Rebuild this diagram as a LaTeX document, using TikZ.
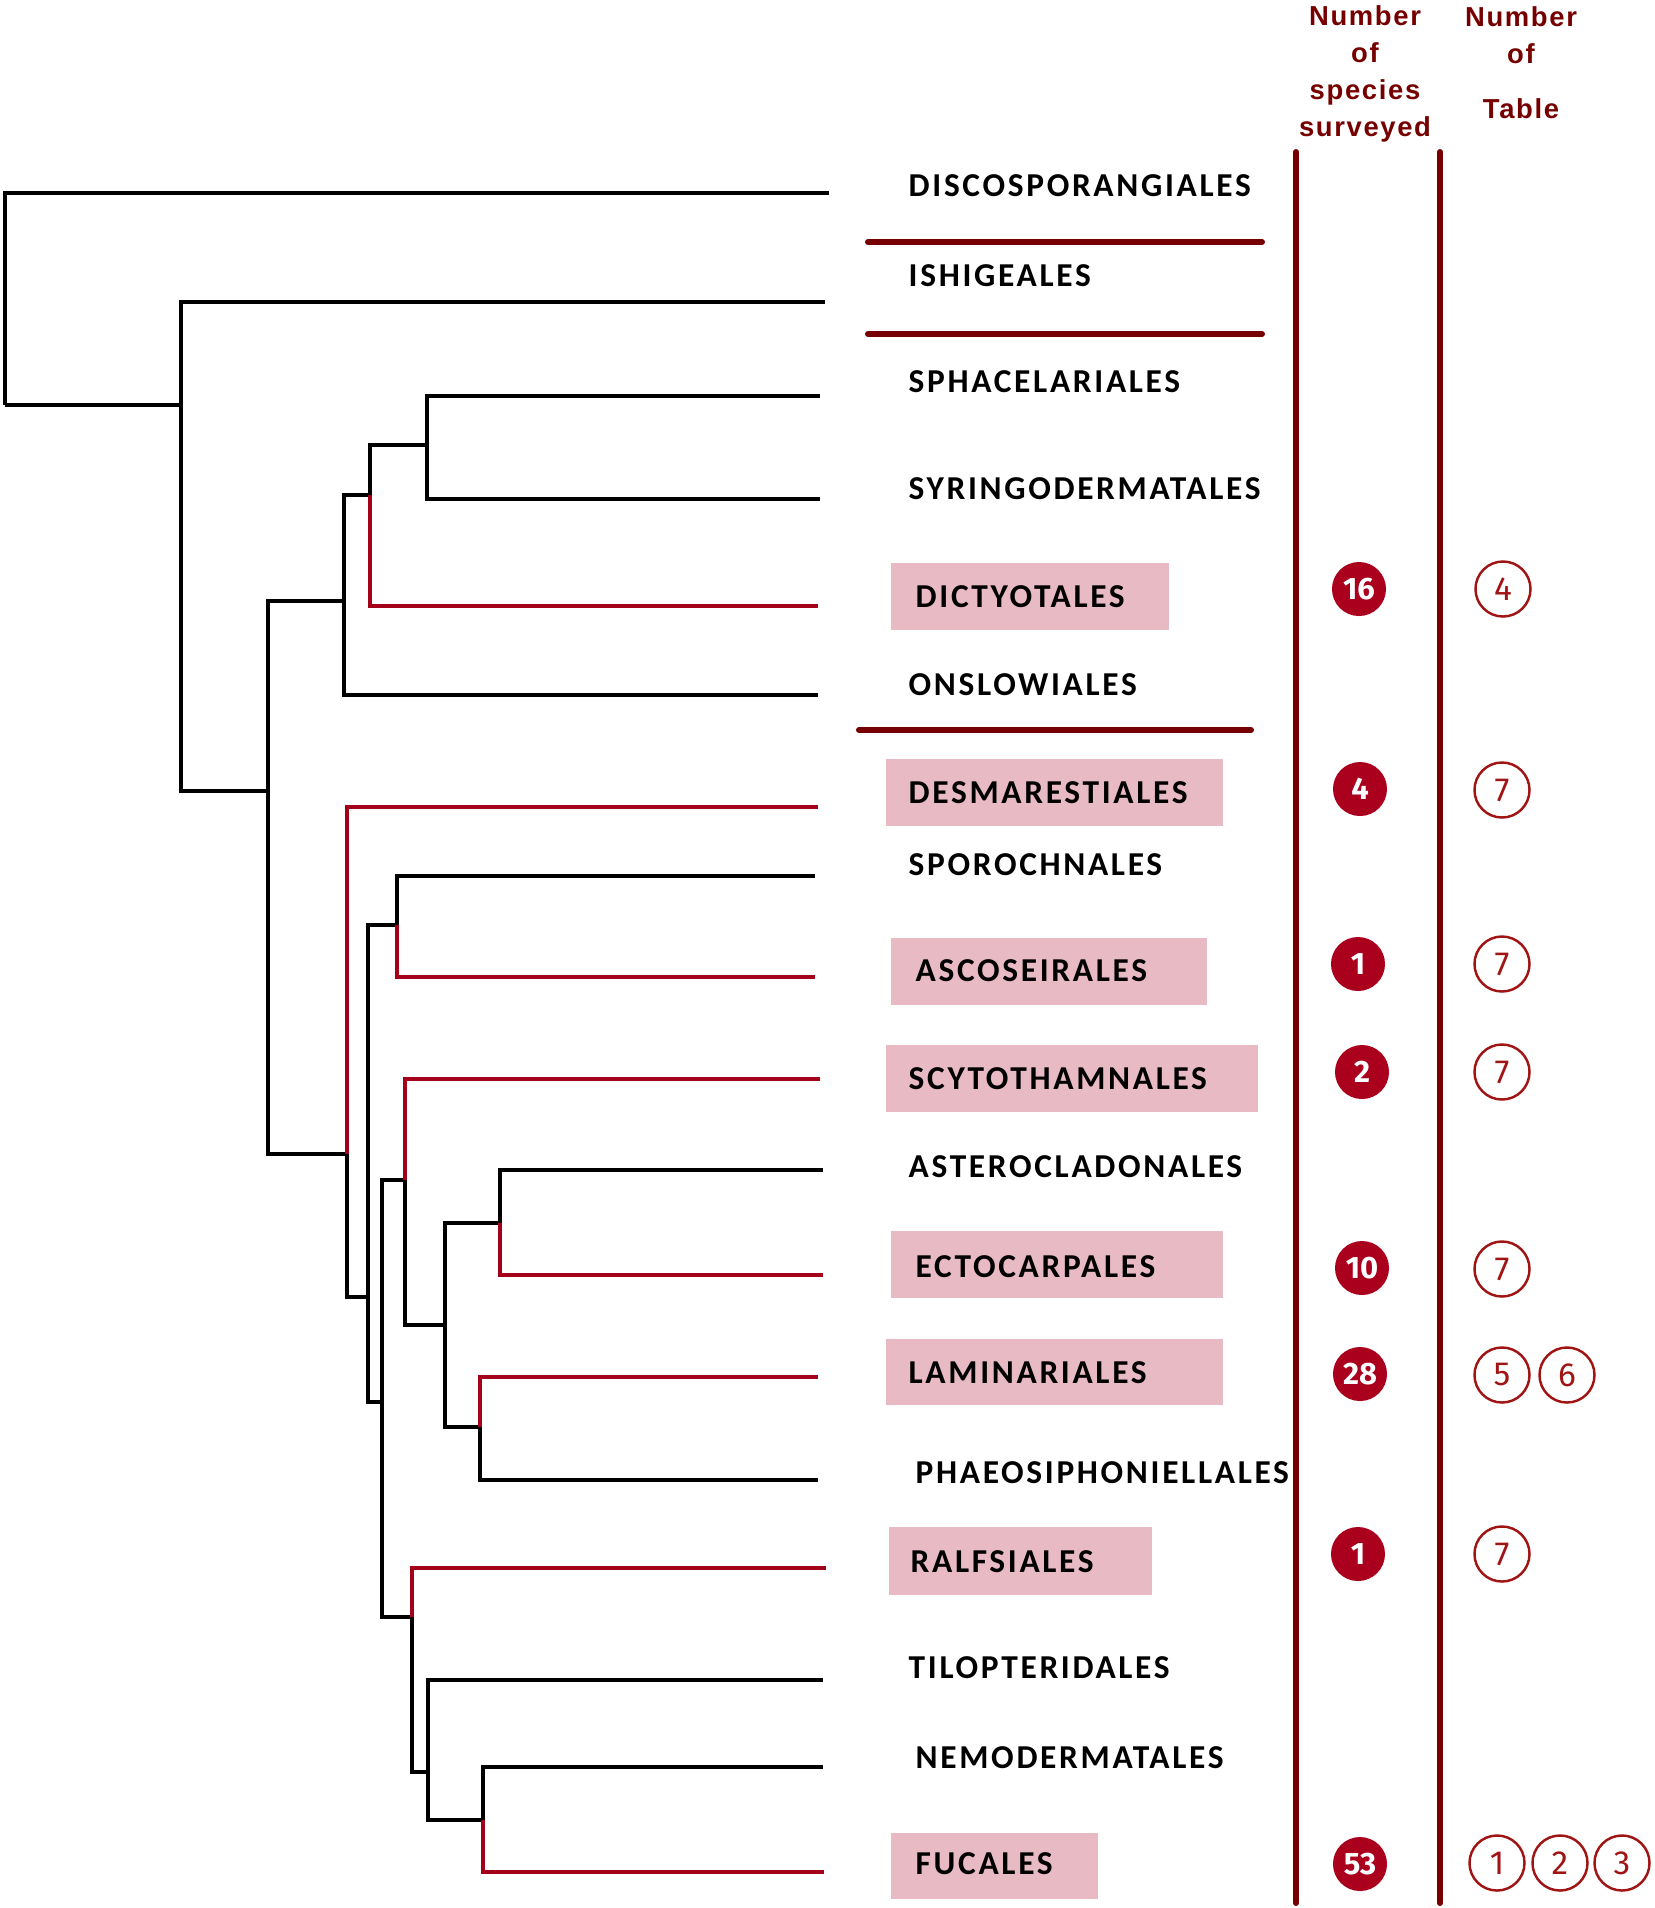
\documentclass[tikz,border=0pt]{standalone}
\usepackage{fontspec}
\setmainfont{Carlito}
\newfontfamily\taxfont[LetterSpace=8]{Carlito}
\newfontfamily\hdfont[LetterSpace=6]{Liberation Sans}
\newfontfamily\numfont{Fira Sans}
\usetikzlibrary{calc}
\definecolor{linered}{RGB}{118,0,0}
\definecolor{treered}{RGB}{165,0,25}
\definecolor{badgered}{RGB}{170,0,30}
\definecolor{ringred}{RGB}{160,20,20}
\definecolor{boxpink}{RGB}{232,186,196}
\tikzset{
	blk/.style={line width=1.2pt},
	rd/.style={line width=1.2pt, treered},
	taxon/.style={anchor=west, inner sep=0pt, font=\taxfont\bfseries\fontsize{9.5}{11}\selectfont},
	pinkbox/.style={fill=boxpink},
	header/.style={align=center, inner sep=0pt, anchor=north, text=linered, font=\hdfont\bfseries\fontsize{7.8}{10.5}\selectfont},
	spec/.style={circle, fill=badgered, minimum size=0.54cm, inner sep=0pt, text=white, font=\numfont\bfseries\fontsize{8.8}{10}\selectfont},
	tabl/.style={circle, draw=ringred, line width=0.7pt, minimum size=0.55cm, inner sep=0pt, text=ringred, font=\numfont\fontsize{9.5}{11}\selectfont},
	divider/.style={line width=1.7pt, linered, line cap=round}
}

\begin{document}
\begin{tikzpicture}[x=0.01cm, y=-0.01cm]
	\useasboundingbox (0,0) rectangle (1655,1908);

	\fill[pinkbox] (891,563) rectangle (1169,630);
	\fill[pinkbox] (886,759) rectangle (1223,826);
	\fill[pinkbox] (891,938) rectangle (1207,1005);
	\fill[pinkbox] (886,1045) rectangle (1258,1112);
	\fill[pinkbox] (891,1231) rectangle (1223,1298);
	\fill[pinkbox] (886,1339) rectangle (1223,1405);
	\fill[pinkbox] (889,1527) rectangle (1152,1595);
	\fill[pinkbox] (891,1833) rectangle (1098,1899);

	\coordinate (root) at (5,405);
	\coordinate (nA) at (181,405);
	\coordinate (nB) at (268,791);
	\coordinate (nC) at (344,601);
	\coordinate (nD) at (370,495);
	\coordinate (nE) at (427,445);
	\coordinate (nF) at (347,1154);
	\coordinate (nG) at (368,1297);
	\coordinate (nH) at (397,925);
	\coordinate (nI) at (382,1402);
	\coordinate (nJ) at (405,1180);
	\coordinate (nK) at (445,1325);
	\coordinate (nL) at (500,1223);
	\coordinate (nM) at (480,1427);
	\coordinate (nN) at (412,1617);
	\coordinate (nO) at (428,1772);
	\coordinate (nP) at (483,1820);

	\coordinate (disco) at (829,193);
	\coordinate (ishig) at (825,302);
	\coordinate (sphac) at (820,396);
	\coordinate (syrin) at (820,499);
	\coordinate (dicty) at (818,606);
	\coordinate (onslo) at (818,695);
	\coordinate (desma) at (818,807);
	\coordinate (sporo) at (815,876);
	\coordinate (ascos) at (815,977);
	\coordinate (scyto) at (820,1079);
	\coordinate (aster) at (823,1170);
	\coordinate (ectoc) at (823,1275);
	\coordinate (lamin) at (818,1377);
	\coordinate (phaeo) at (818,1480);
	\coordinate (ralfs) at (826,1568);
	\coordinate (tilop) at (823,1680);
	\coordinate (nemod) at (823,1767);
	\coordinate (fucal) at (824,1872);

	\draw[blk] (root) |- (disco);
	\draw[blk] (root) |- (nA);
	\draw[blk] (nA) |- (ishig);
	\draw[blk] (nA) |- (nB);
	\draw[blk] (nB) |- (nC);
	\draw[blk] (nB) |- (nF);
	\draw[blk] (nC) |- (nD);
	\draw[blk] (nC) |- (onslo);
	\draw[blk] (nD) |- (nE);
	\draw[rd] (nD) |- (dicty);
	\draw[blk] (nE) |- (sphac);
	\draw[blk] (nE) |- (syrin);
	\draw[rd] (nF) |- (desma);
	\draw[blk] (nF) |- (nG);
	\draw[blk] (nG) |- (nH);
	\draw[blk] (nG) |- (nI);
	\draw[blk] (nH) |- (sporo);
	\draw[rd] (nH) |- (ascos);
	\draw[blk] (nI) |- (nJ);
	\draw[blk] (nI) |- (nN);
	\draw[rd] (nJ) |- (scyto);
	\draw[blk] (nJ) |- (nK);
	\draw[blk] (nK) |- (nL);
	\draw[blk] (nK) |- (nM);
	\draw[blk] (nL) |- (aster);
	\draw[rd] (nL) |- (ectoc);
	\draw[rd] (nM) |- (lamin);
	\draw[blk] (nM) |- (phaeo);
	\draw[rd] (nN) |- (ralfs);
	\draw[blk] (nN) |- (nO);
	\draw[blk] (nO) |- (tilop);
	\draw[blk] (nO) |- (nP);
	\draw[blk] (nP) |- (nemod);
	\draw[rd] (nP) |- (fucal);

	\node[taxon] (Ldisco) at (908,186) {DISCOSPORANGIALES};
	\node[taxon] (Lishig) at (908,276) {ISHIGEALES};
	\node[taxon] (Lsphac) at (908,382) {SPHACELARIALES};
	\node[taxon] (Lsyrin) at (908,489) {SYRINGODERMATALES};
	\node[taxon] (Ldicty) at (915,597) {DICTYOTALES};
	\node[taxon] (Lonslo) at (908,685) {ONSLOWIALES};
	\node[taxon] (Ldesma) at (908,793) {DESMARESTIALES};
	\node[taxon] (Lsporo) at (908,865) {SPOROCHNALES};
	\node[taxon] (Lascos) at (915,971) {ASCOSEIRALES};
	\node[taxon] (Lscyto) at (908,1079) {SCYTOTHAMNALES};
	\node[taxon] (Laster) at (908,1167) {ASTEROCLADONALES};
	\node[taxon] (Lectoc) at (915,1267) {ECTOCARPALES};
	\node[taxon] (Llamin) at (908,1373) {LAMINARIALES};
	\node[taxon] (Lphaeo) at (915,1473) {PHAEOSIPHONIELLALES};
	\node[taxon] (Lralfs) at (910,1562) {RALFSIALES};
	\node[taxon] (Ltilop) at (908,1668) {TILOPTERIDALES};
	\node[taxon] (Lnemod) at (915,1758) {NEMODERMATALES};
	\node[taxon] (Lfucal) at (915,1864) {FUCALES};

	\draw[divider] (868,242) -- (1262,242);
	\draw[divider] (868,334) -- (1262,334);
	\draw[divider] (859,730) -- (1251,730);
	\draw[divider] (1296,152) -- (1296,1903);
	\draw[divider] (1440,152) -- (1440,1903);

	\node[header] (hspec) at (1365,5) {Number\\of\\species\\surveyed};
	\node[header] (htab) at (1521,6) {Number\\of\\[5pt]Table};

	\node[spec] (sdicty) at (1359,589) {16};
	\node[spec] (sdesma) at (1360,789) {4};
	\node[spec] (sascos) at (1358,964) {1};
	\node[spec] (sscyto) at (1362,1072) {2};
	\node[spec] (sectoc) at (1362,1268) {10};
	\node[spec] (slamin) at (1360,1374) {28};
	\node[spec] (sralfs) at (1358,1554) {1};
	\node[spec] (sfucal) at (1360,1864) {53};

	\node[tabl] (tdicty) at (1503,589) {4};
	\node[tabl] (tdesma) at (1502,790) {7};
	\node[tabl] (tascos) at (1502,964) {7};
	\node[tabl] (tscyto) at (1502,1072) {7};
	\node[tabl] (tectoc) at (1502,1269) {7};
	\node[tabl] (tlamA) at (1502,1375) {5};
	\node[tabl] (tlamB) at (1567,1375) {6};
	\node[tabl] (tralfs) at (1502,1554) {7};
	\node[tabl] (tfucA) at (1497,1863) {1};
	\node[tabl] (tfucB) at (1560,1863) {2};
	\node[tabl] (tfucC) at (1622,1863) {3};
\end{tikzpicture}
\end{document}
